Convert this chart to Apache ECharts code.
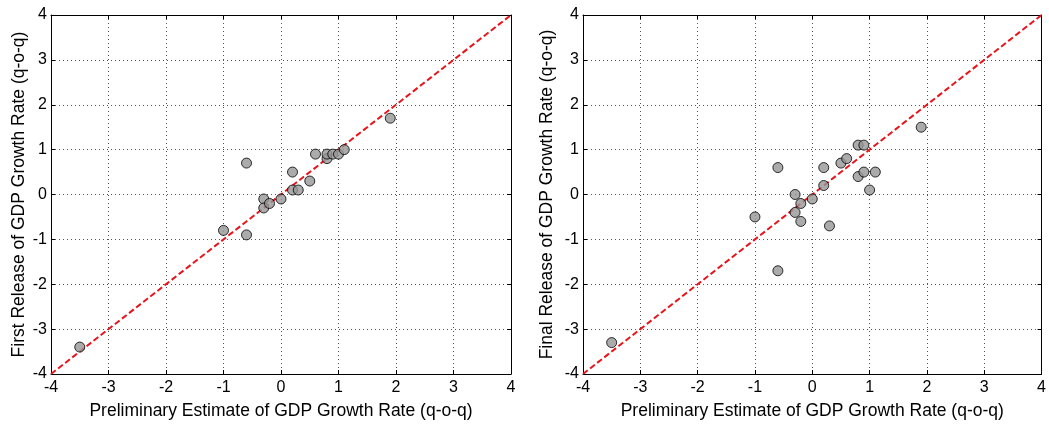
<!DOCTYPE html>
<html>
<head>
<meta charset="utf-8">
<script src="https://cdn.jsdelivr.net/npm/echarts@6/dist/echarts.min.js"></script>
<style>
  html, body { margin: 0; padding: 0; background: #fff; }
  #chart { width: 1049px; height: 425px; }
</style>
</head>
<body>
<div id="chart"></div>
<script>
// Axis range shared by both panels
const axisMin = -4;
const axisMax = 4;
const axisStep = 1;

// Panel 1: preliminary estimate vs first release (q-o-q, %)
const prelimFirst = [-3.5, -1.0, -0.6, -0.6, -0.3, -0.3, -0.2, 0.0, 0.2, 0.2, 0.3, 0.5, 0.6, 0.8, 0.8, 0.9, 1.0, 1.1, 1.9];
const firstRelease = [-3.4, -0.8, -0.9, 0.7, -0.1, -0.3, -0.2, -0.1, 0.1, 0.5, 0.1, 0.3, 0.9, 0.8, 0.9, 0.9, 0.9, 1.0, 1.7];

// Panel 2: preliminary estimate vs final release (q-o-q, %)
const prelimFinal = [-3.5, -1.0, -0.6, -0.6, -0.3, -0.3, -0.2, -0.2, 0.0, 0.2, 0.2, 0.3, 0.5, 0.6, 0.8, 0.8, 0.9, 0.9, 1.0, 1.1, 1.9];
const finalRelease = [-3.3, -0.5, -1.7, 0.6, 0.0, -0.4, -0.2, -0.6, -0.1, 0.2, 0.6, -0.7, 0.7, 0.8, 1.1, 0.4, 1.1, 0.5, 0.1, 0.5, 1.5];

// 45-degree reference line endpoints
const diagonal = [-4, 4];

const xTitle = 'Preliminary Estimate of GDP Growth Rate (q-o-q)';
const yTitles = ['First Release of GDP Growth Rate (q-o-q)', 'Final Release of GDP Growth Rate (q-o-q)'];

const FONT = 'Liberation Sans, Arial, sans-serif';

function zip(a, b) { return a.map((v, i) => [v, b[i]]); }

const grids = [
  { left: 51, width: 460, top: 15, height: 363 },
  { left: 583, width: 460, top: 15, height: 363 }
];
const yNameGaps = [23, 27];

const xAxes = [];
const yAxes = [];
grids.forEach((g, i) => {
  const common = { type: 'value', min: axisMin, max: axisMax, interval: axisStep, gridIndex: i };
  xAxes.push(Object.assign({}, common, {
    position: 'bottom',
    name: xTitle, nameLocation: 'middle', nameGap: 28,
    nameTextStyle: { fontFamily: FONT, fontSize: 17.5, color: '#000' },
    axisLine: { show: true, onZero: false, lineStyle: { color: '#000', width: 1 } },
    axisTick: { show: true, inside: true, length: 4, lineStyle: { color: '#000' } },
    axisLabel: { fontFamily: FONT, fontSize: 16, color: '#000', margin: 6 },
    splitLine: { show: true, lineStyle: { type: [1, 3], color: '#555', width: 1 } }
  }));
  xAxes.push(Object.assign({}, common, {
    position: 'top',
    axisLine: { show: true, onZero: false, lineStyle: { color: '#000', width: 1 } },
    axisTick: { show: true, inside: true, length: 4, lineStyle: { color: '#000' } },
    axisLabel: { show: false },
    splitLine: { show: false }
  }));
  yAxes.push(Object.assign({}, common, {
    position: 'left',
    name: yTitles[i], nameLocation: 'middle', nameGap: yNameGaps[i],
    nameTextStyle: { fontFamily: FONT, fontSize: 17.5, color: '#000' },
    axisLine: { show: true, onZero: false, lineStyle: { color: '#000', width: 1 } },
    axisTick: { show: true, inside: true, length: 4, lineStyle: { color: '#000' } },
    axisLabel: { fontFamily: FONT, fontSize: 16, color: '#000', margin: 4 },
    splitLine: { show: true, lineStyle: { type: [1, 3], color: '#555', width: 1 } }
  }));
  yAxes.push(Object.assign({}, common, {
    position: 'right',
    axisLine: { show: true, onZero: false, lineStyle: { color: '#000', width: 1 } },
    axisTick: { show: true, inside: true, length: 4, lineStyle: { color: '#000' } },
    axisLabel: { show: false },
    splitLine: { show: false }
  }));
});

const pointStyle = { color: '#969696', borderColor: '#000', borderWidth: 1 };
const lineStyle = { color: '#e8141b', width: 2, type: [6, 3] };

const series = [];
[[prelimFirst, firstRelease], [prelimFinal, finalRelease]].forEach((pair, i) => {
  series.push({
    type: 'line', xAxisIndex: i * 2, yAxisIndex: i * 2,
    data: zip(diagonal, diagonal), showSymbol: false, silent: true,
    lineStyle: lineStyle, z: 2
  });
  series.push({
    type: 'scatter', xAxisIndex: i * 2, yAxisIndex: i * 2,
    data: zip(pair[0], pair[1]), symbol: 'circle', symbolSize: 10,
    itemStyle: pointStyle, z: 3
  });
});

const chart = echarts.init(document.getElementById('chart'), null, { renderer: 'canvas' });
chart.setOption({
  animation: false,
  backgroundColor: '#fff',
  grid: grids,
  xAxis: xAxes,
  yAxis: yAxes,
  series: series
});
</script>
</body>
</html>
